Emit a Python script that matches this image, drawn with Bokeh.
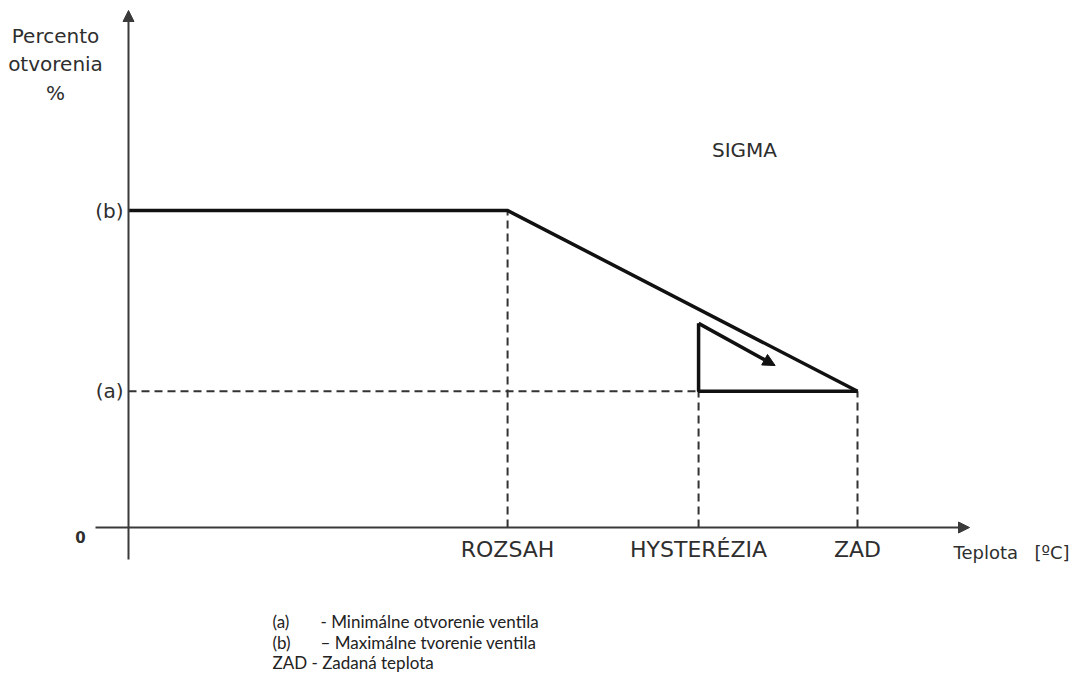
from bokeh.plotting import figure
from bokeh.models import Arrow, NormalHead, Range1d
from bokeh.core.properties import value
from bokeh.embed import file_html
from bokeh.resources import INLINE

# ---- data ----
temp_labels = ["ROZSAH", "HYSTERÉZIA", "ZAD"]
temp_values = [5.2, 7.82, 10.0]          # temperature positions (ZAD = 10)
level_labels = ["(b)", "(a)"]
level_values = [100, 43]                   # opening percent: (b) max, (a) min
curve_x = [0, 5.2, 10.0]
curve_y = [100, 100, 43]
hyst_top = 64.4                            # top of hysteresis triangle
hyst_arrow_end = (8.87, 51.1)
legend_keys = ["(a)", "(b)", "ZAD - Zadaná teplota"]
legend_texts = ["- Minimálne otvorenie ventila", "– Maximálne tvorenie ventila"]

# ---- layout (picture pixels -> data) ----
W, H = 1071, 672
X0PX, XPX = 128, 72.9
Y0PX, YPX = 527, 3.17


def dx(px):
    return (px - X0PX) / XPX


def dy(py):
    return (Y0PX - py) / YPX


p = figure(width=W, height=H, x_range=Range1d(dx(0), dx(W)),
           y_range=Range1d(dy(H), dy(0)), output_backend="svg",
           toolbar_location=None, x_axis_location=None, y_axis_location=None,
           min_border=0, outline_line_color=None)
p.grid.visible = False

AX = "#3a3a3a"
TXT = "#2e2e2e"
FONT = value("DejaVu Sans")

# axes arrows
p.add_layout(Arrow(x_start=0, y_start=dy(559), x_end=0, y_end=dy(10),
                   line_color=AX, line_width=2,
                   end=NormalHead(size=11, fill_color=AX, line_color=AX)))
p.add_layout(Arrow(x_start=dx(95), y_start=0, x_end=dx(969), y_end=0,
                   line_color=AX, line_width=2,
                   end=NormalHead(size=11, fill_color=AX, line_color=AX)))

# dashed guides
a_val = level_values[1]
b_val = level_values[0]
p.segment(x0=[0], y0=[a_val], x1=[temp_values[2]], y1=[a_val],
          line_color="#333333", line_width=2, line_dash="8 5")
p.segment(x0=temp_values, y0=[0, 0, 0], x1=temp_values,
          y1=[b_val, a_val, a_val],
          line_color="#333333", line_width=2, line_dash="8 5")

# main curve
p.line(curve_x, curve_y, line_color="#111111", line_width=3.5,
       line_join="miter")

# hysteresis triangle
p.line([temp_values[1], temp_values[1], temp_values[2]],
       [hyst_top, a_val, a_val], line_color="#111111", line_width=3.5)
p.add_layout(Arrow(x_start=temp_values[1], y_start=hyst_top,
                   x_end=hyst_arrow_end[0], y_end=hyst_arrow_end[1],
                   line_color="#111111", line_width=3.5,
                   end=NormalHead(size=12, fill_color="#111111",
                                  line_color="#111111")))

# tick labels on temperature axis
p.text(x=temp_values, y=[dy(549)] * 3, text=temp_labels,
       text_align="center", text_baseline="middle", text_font=FONT,
       text_font_size="22px", text_color=TXT)

# level labels
p.text(x=[dx(123)] * 2, y=level_values, text=level_labels,
       text_align="right", text_baseline="middle", text_font=FONT,
       text_font_size="20px", text_color=TXT)
p.text(x=[dx(80)], y=[dy(536)], text=["0"], text_align="center",
       text_baseline="middle", text_font=FONT, text_font_size="15px",
       text_font_style="bold", text_color=TXT)

# axis titles
p.text(x=[dx(55)] * 3, y=[dy(35), dy(63), dy(92)],
       text=["Percento", "otvorenia", "%"], text_align="center",
       text_baseline="middle", text_font=FONT, text_font_size="20px",
       text_color=TXT)
p.text(x=[dx(953), dx(1034)], y=[dy(552)] * 2, text=["Teplota", "[ºC]"],
       text_align="left", text_baseline="middle", text_font=FONT,
       text_font_size="18px", text_color=TXT)
p.text(x=[dx(744)], y=[dy(149)], text=["SIGMA"], text_align="center",
       text_baseline="middle", text_font=FONT, text_font_size="20px",
       text_color=TXT)

# legend notes
leg_y = [dy(621), dy(642), dy(662)]
p.text(x=[dx(272)] * 3, y=leg_y, text=legend_keys,
       text_align="left", text_baseline="middle", text_font=value("Lato"),
       text_font_size="17px", text_color="#222222")
p.text(x=[dx(320)] * 2, y=leg_y[:2], text=legend_texts,
       text_align="left", text_baseline="middle", text_font=value("Lato"),
       text_font_size="17px", text_color="#222222")

open("out.html", "w").write(file_html(p, INLINE))
